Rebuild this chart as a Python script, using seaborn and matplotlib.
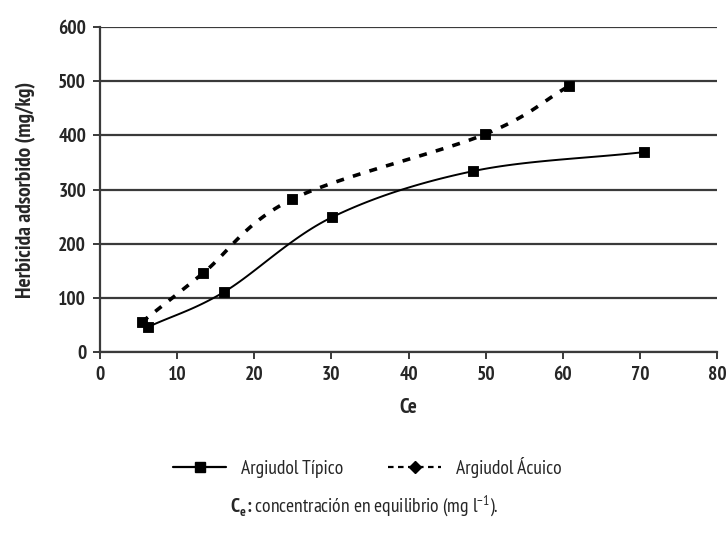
import numpy as np
import pandas as pd
import matplotlib
matplotlib.use("Agg")
import matplotlib.pyplot as plt
from matplotlib.lines import Line2D
from matplotlib import font_manager
import seaborn as sns

# ---- data ----
tipico_ce = [6.2, 16.1, 30.1, 48.4, 70.5]
tipico_q = [46, 111, 249, 334, 369]
acuico_ce = [5.4, 13.4, 24.9, 49.9, 60.8]
acuico_q = [55, 146, 282, 402, 491]
series_names = ["Argiudol Típico", "Argiudol Ácuico"]
x_ticks = [0, 10, 20, 30, 40, 50, 60, 70, 80]
y_ticks = [0, 100, 200, 300, 400, 500, 600]

sns.set_theme(style="white")
names = {f.name for f in font_manager.fontManager.ttflist}
fam = "PT Sans Narrow" if "PT Sans Narrow" in names else "Liberation Sans"
plt.rcParams["font.family"] = [fam, "DejaVu Sans"]
plt.rcParams["mathtext.fontset"] = "custom"
plt.rcParams["mathtext.rm"] = fam
plt.rcParams["mathtext.bf"] = fam + ":bold"


def smooth(xs, ys, sx=7.7, sy=0.542, n=30):
    """Catmull-Rom rendering of a line through the data points (Excel 'smoothed line')."""
    P = np.column_stack([np.array(xs) * sx, np.array(ys) * sy])
    P = np.vstack([2 * P[0] - P[1], P, 2 * P[-1] - P[-2]])
    out = []
    for i in range(1, len(P) - 2):
        p0, p1, p2, p3 = P[i - 1], P[i], P[i + 1], P[i + 2]
        t = np.linspace(0, 1, n, endpoint=(i == len(P) - 3))[:, None]
        c = 0.5 * ((2 * p1) + (-p0 + p2) * t + (2 * p0 - 5 * p1 + 4 * p2 - p3) * t**2
                   + (-p0 + 3 * p1 - 3 * p2 + p3) * t**3)
        out.append(c)
    out = np.vstack(out)
    return out[:, 0] / sx, out[:, 1] / sy


fig = plt.figure(figsize=(7.28, 5.36), dpi=100)
ax = fig.add_axes([0.1374, 0.3433, 0.8476, 0.6063])

sx1, sy1 = smooth(tipico_ce, tipico_q)
sx2, sy2 = smooth(acuico_ce, acuico_q)
d1 = pd.DataFrame({"x": sx1, "y": sy1})
d2 = pd.DataFrame({"x": sx2, "y": sy2})
sns.lineplot(data=d1, x="x", y="y", sort=False, ax=ax, color="black", lw=1.4)
sns.lineplot(data=d2, x="x", y="y", sort=False, ax=ax, color="black", lw=2.6,
             dashes=False)
ax.lines[-1].set_dashes([2.2, 2.6])
sns.scatterplot(x=tipico_ce, y=tipico_q, ax=ax, marker="s", s=60, color="black",
                edgecolor="black", zorder=5)
sns.scatterplot(x=acuico_ce, y=acuico_q, ax=ax, marker="s", s=60, color="black",
                edgecolor="black", zorder=5)

ax.set_xlim(0, 80)
ax.set_ylim(0, 600)
ax.set_xticks(x_ticks)
ax.set_yticks(y_ticks)
ax.set_xticklabels([str(v) for v in x_ticks], fontweight="bold", fontsize=14)
ax.set_yticklabels([str(v) for v in y_ticks], fontweight="bold", fontsize=14)
ax.yaxis.grid(True, color="#3a3a3a", lw=1.6)
ax.set_axisbelow(True)
for s in ["top", "right"]:
    ax.spines[s].set_visible(False)
ax.spines["left"].set_color("#3a3a3a")
ax.spines["bottom"].set_color("#3a3a3a")
ax.spines["left"].set_linewidth(1.6)
ax.spines["bottom"].set_linewidth(1.6)
ax.tick_params(axis="both", direction="out", length=5, width=1.4, color="#3a3a3a",
               bottom=True, left=True, pad=5)
ax.set_xlabel("Ce", fontweight="bold", fontsize=15, labelpad=10)
ax.set_ylabel("Herbicida adsorbido (mg/kg)", fontweight="bold", fontsize=15.5, labelpad=16)

handles = [
    Line2D([], [], color="black", lw=1.6, marker="s", markersize=7),
    Line2D([], [], color="black", lw=1.6, ls=(0, (2.5, 2)), marker="D", markersize=6),
]
fig.legend(handles, series_names, loc="center", bbox_to_anchor=(0.505, 1 - 467 / 536),
           ncol=2, frameon=False, fontsize=14, handlelength=2.7, columnspacing=2.3,
           handletextpad=0.8)

fig.text(0.5, 1 - 506 / 536,
         r"$\mathbf{C}_{\mathbf{e}}\!\mathbf{:}$concentración en equilibrio (mg l$^{\mathrm{-1}}$).",
         ha="center", va="center", fontsize=14)

fig.savefig("out.png", dpi=100)
